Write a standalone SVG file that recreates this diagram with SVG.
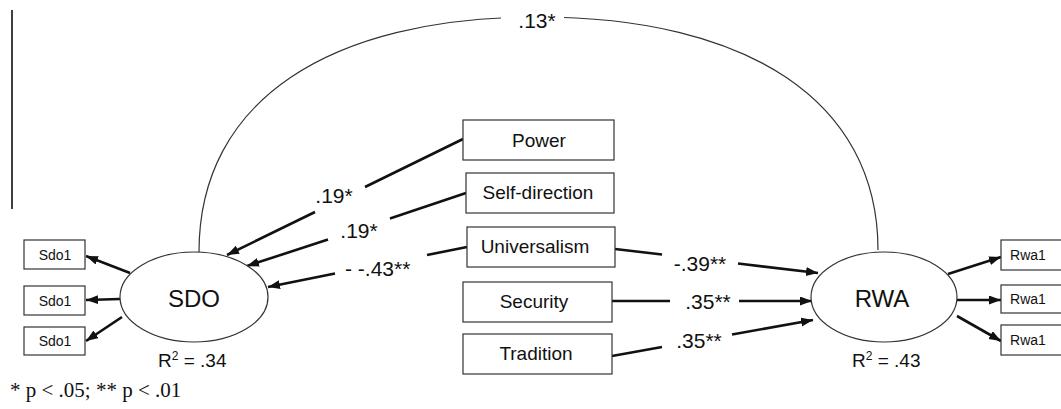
<svg xmlns="http://www.w3.org/2000/svg" width="1061" height="409" viewBox="0 0 1061 409">
<style>
.box{fill:#fff;stroke:#333;stroke-width:1.2}
.ell{fill:#fff;stroke:#333;stroke-width:1.2}
.t{font-family:"Liberation Sans",Arial,sans-serif;fill:#111;text-anchor:middle}
.pred{font-size:19px}
.ind{font-size:14px}
.lat{font-size:24px}
.coef{font-size:21px}
.arr{fill:none;stroke:#111;stroke-width:2.6;marker-end:url(#ah)}
.arc{fill:none;stroke:#333;stroke-width:1.2}
</style>
<defs>
<marker id="ah" markerUnits="userSpaceOnUse" markerWidth="13" markerHeight="10" refX="12" refY="4.5" orient="auto">
<path d="M0,0 L12,4.5 L0,9 z" fill="#111"/>
</marker>
</defs>
<rect width="1061" height="409" fill="#fff"/>
<line x1="12" y1="10" x2="12" y2="209" stroke="#111" stroke-width="1.6"/>

<g id="connectors">
<path class="arc" d="M199,252 C199,100 330,17 538,17 C746,17 878,100 878,250"/>
<rect x="501" y="6" width="63" height="26" fill="#fff"/>
<path class="arr" d="M463,139 L365,187 M315,212 L227,255"/>
<path class="arr" d="M466,193 L390,218.5 M328,239.5 L247,266"/>
<path class="arr" d="M467,247 L427,255 M335,273.5 L268,287"/>
<path class="arr" d="M615,249 L662,254.5 M738,263.5 L818,273"/>
<path class="arr" d="M612,301 L670,301 M739,301 L812,301"/>
<path class="arr" d="M612,356 L662,347 M732,334.5 L813,320"/>
<path class="arr" d="M130,273 L86,256"/>
<path class="arr" d="M120,299 L86,300"/>
<path class="arr" d="M122,317 L86,341"/>
<path class="arr" d="M948,274 L1001,257"/>
<path class="arr" d="M957,300 L1001,300"/>
<path class="arr" d="M957,316 L1001,341"/>
<text class="t coef" x="537" y="27.5">.13*</text>
<text class="t coef" x="334" y="202.5">.19*</text>
<text class="t coef" x="359" y="237.5">.19*</text>
<text class="t coef" x="345" y="275.5" style="text-anchor:start">- -.43**</text>
<text class="t coef" x="700" y="270.5">-.39**</text>
<text class="t coef" x="708" y="309">.35**</text>
<text class="t coef" x="699" y="347.5">.35**</text>
</g>

<g id="node-power"><rect class="box" x="463" y="120" width="151" height="40"/><text class="t pred" x="539" y="147">Power</text></g>
<g id="node-selfdirection"><rect class="box" x="466" y="173" width="148" height="40"/><text class="t pred" x="538" y="199">Self-direction</text></g>
<g id="node-universalism"><rect class="box" x="467" y="227" width="148" height="40"/><text class="t pred" x="535" y="253">Universalism</text></g>
<g id="node-security"><rect class="box" x="463" y="282" width="149" height="40"/><text class="t pred" x="534" y="308">Security</text></g>
<g id="node-tradition"><rect class="box" x="463" y="334" width="149" height="40"/><text class="t pred" x="536" y="360">Tradition</text></g>

<g id="node-sdo"><ellipse class="ell" cx="194" cy="297" rx="74" ry="45"/><text class="t lat" x="194" y="306.5">SDO</text>
<text x="158" y="367" style="font-family:'Liberation Sans',Arial,sans-serif;font-size:19px;fill:#111">R<tspan dy="-7" font-size="12">2</tspan><tspan dy="7"> = .34</tspan></text></g>
<g id="node-rwa"><ellipse class="ell" cx="884" cy="297" rx="73" ry="45"/><text class="t lat" x="882" y="306.5">RWA</text>
<text x="852" y="367" style="font-family:'Liberation Sans',Arial,sans-serif;font-size:19px;fill:#111">R<tspan dy="-7" font-size="12">2</tspan><tspan dy="7"> = .43</tspan></text></g>

<g id="node-sdo1-a"><rect class="box" x="24" y="240" width="61" height="29"/><text class="t ind" x="55" y="259.5">Sdo1</text></g>
<g id="node-sdo1-b"><rect class="box" x="24" y="286" width="61" height="29"/><text class="t ind" x="55" y="305.5">Sdo1</text></g>
<g id="node-sdo1-c"><rect class="box" x="24" y="327" width="61" height="28"/><text class="t ind" x="55" y="346">Sdo1</text></g>

<g id="node-rwa1-a"><rect class="box" x="1001" y="240" width="62" height="30"/><text class="t ind" x="1028" y="260">Rwa1</text></g>
<g id="node-rwa1-b"><rect class="box" x="1001" y="285" width="62" height="28"/><text class="t ind" x="1028" y="304">Rwa1</text></g>
<g id="node-rwa1-c"><rect class="box" x="1001" y="325" width="62" height="30"/><text class="t ind" x="1028" y="345">Rwa1</text></g>

<text x="10" y="397" style="font-family:'Liberation Serif','Times New Roman',serif;font-size:21px;fill:#111">* p &lt; .05; ** p &lt; .01</text>
</svg>
